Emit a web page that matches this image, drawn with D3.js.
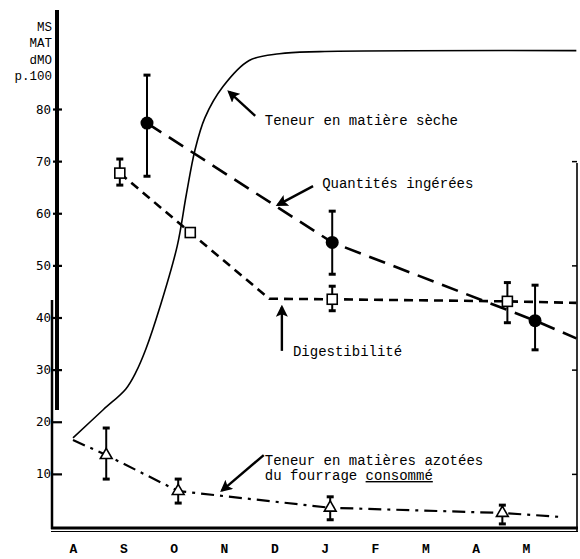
<!DOCTYPE html>
<html>
<head>
<meta charset="utf-8">
<script src="https://cdn.jsdelivr.net/npm/d3@7/dist/d3.min.js"></script>
<style>
  body { margin: 0; background: #fff; }
  svg { display: block; }
</style>
</head>
<body>
<div id="chart"></div>
<script>
'use strict';

// month labels, August -> May
const months = ['A', 'S', 'O', 'N', 'D', 'J', 'F', 'M', 'A', 'M'];
const yTicks = [10, 20, 30, 40, 50, 60, 70, 80];
const rightTicks = [10, 30, 50, 70];
const unitLines = ['MS', 'MAT', 'dMO', 'p.100'];

// Teneur en matiere seche (solid curve)
const msMonth = [0, 0.6, 1.05, 1.25, 1.45, 1.73, 2.07, 2.25, 2.42, 2.62, 2.98, 3.5, 4.1, 4.9, 10];
const msValue = [16.9, 22.3, 26.3, 29.5, 34, 42.1, 53.7, 63.5, 72, 78.3, 84.3, 89.3, 90.6, 91, 91.2];

// Quantites ingerees (filled circles)
const qiMonth = [1.47, 5.15, 9.18];
const qiValue = [77.3, 54.4, 39.4];
const qiLow = [67.1, 48.3, 33.8];
const qiHigh = [86.5, 60.4, 46.2];
const qiLineMonth = [1.47, 5.15, 9.18, 10];
const qiLineValue = [77.3, 54.4, 39.4, 36];

// Digestibilite (open squares)
const dgMonth = [0.93, 2.33, 5.15, 8.63];
const dgValue = [67.7, 56.3, 43.5, 43.1];
const dgLow = [65.4, null, 41.3, 39];
const dgHigh = [70.4, null, 46, 46.7];
const dgLineMonth = [0.93, 2.33, 3.9, 5.15, 8.63, 10];
const dgLineValue = [67.7, 56.3, 43.6, 43.5, 43.1, 42.8];

// Teneur en matieres azotees (open triangles)
const maMonth = [0.66, 2.09, 5.11, 8.53];
const maValue = [13.6, 6.7, 3.5, 2.5];
const maLow = [9, 4.4, 1.2, 0.4];
const maHigh = [18.8, 9, 5.6, 4];
const maLineMonth = [0, 0.66, 2.09, 5.11, 8.53, 9.75];
const maLineValue = [16.5, 13.6, 6.7, 3.5, 2.5, 1.7];

// annotations: text anchor and arrow tail/head, in (month, value)
const notes = [
  {lines: ['Teneur en matière sèche'], at: [3.81, 76.9], tail: [3.62, 78.7], head: [3.1, 83.3]},
  {lines: ['Quantités ingérées'], at: [4.95, 64.8], tail: [4.77, 65.2], head: [4.07, 61.6]},
  {lines: ['Digestibilité'], at: [4.37, 32.6], tail: [4.15, 33.6], head: [4.15, 42]},
  {lines: ['Teneur en matières azotées', 'du fourrage ', 'consommé'], at: [3.81, 11.7], tail: [3.79, 13.6], head: [2.96, 6.8]}
];

const width = 580, height = 559;
const mono = '"Liberation Mono", "DejaVu Sans Mono", monospace';

const svg = d3.select('#chart').append('svg')
    .attr('width', width)
    .attr('height', height);

const x = d3.scaleLinear().domain([0, 9]).range([73, 526]);
const y = d3.scaleLinear().domain([0, 80]).range([526, 109]);

const zip = (a, b) => a.map((v, i) => [v, b[i]]);

svg.append('defs').append('marker')
    .attr('id', 'head')
    .attr('viewBox', '0 0 10 10')
    .attr('refX', 8).attr('refY', 5)
    .attr('markerWidth', 6).attr('markerHeight', 6)
    .attr('markerUnits', 'userSpaceOnUse')
    .attr('orient', 'auto')
  .append('path')
    .attr('d', 'M0,0L10,5L0,10L2,5Z')
    .attr('fill', '#000');
svg.select('marker')
    .attr('markerWidth', 12).attr('markerHeight', 12);

// ---- axes ----
const left = svg.append('g').attr('transform', 'translate(53,0)');
left.call(d3.axisRight(y).tickValues(yTicks).tickSize(9).tickFormat(''));
left.select('.domain').remove();
left.selectAll('.tick line').attr('stroke-width', 2.2);

const leftLabels = svg.append('g').attr('transform', 'translate(52,0)')
    .call(d3.axisLeft(y).tickValues(yTicks).tickSize(0).tickPadding(1));
leftLabels.select('.domain').remove();
leftLabels.selectAll('text')
    .attr('font-family', '"DejaVu Sans Mono", monospace')
    .attr('font-size', 12.5)
    .attr('fill', '#000');

svg.append('line')
    .attr('x1', 57).attr('x2', 57).attr('y1', 10).attr('y2', 410)
    .attr('stroke', '#000').attr('stroke-width', 4);
svg.append('line')
    .attr('x1', 52).attr('x2', 52).attr('y1', 300).attr('y2', 529)
    .attr('stroke', '#000').attr('stroke-width', 2.5);

svg.append('line')
    .attr('x1', 51).attr('x2', 578).attr('y1', 528).attr('y2', 528)
    .attr('stroke', '#000').attr('stroke-width', 3);
svg.append('line')
    .attr('x1', 51).attr('x2', 578).attr('y1', 531.5).attr('y2', 531.5)
    .attr('stroke', '#000').attr('stroke-width', 1);

const right = svg.append('g').attr('transform', 'translate(577,0)');
right.call(d3.axisLeft(y).tickValues(rightTicks).tickSize(5).tickFormat(''));
right.select('.domain').remove();
right.selectAll('.tick line').attr('stroke-width', 1.5);
svg.append('line')
    .attr('x1', 577).attr('x2', 577).attr('y1', 163).attr('y2', 532)
    .attr('stroke', '#000').attr('stroke-width', 1.6);

const bottom = svg.append('g').attr('transform', 'translate(0,528)')
    .call(d3.axisBottom(x).tickValues(d3.range(months.length)).tickSize(0).tickPadding(16)
        .tickFormat(i => months[i]));
bottom.select('.domain').remove();
bottom.selectAll('text')
    .attr('font-family', mono)
    .attr('font-weight', 'bold')
    .attr('font-size', 13)
    .attr('fill', '#000');

svg.append('text')
    .attr('font-family', mono)
    .attr('font-size', 12.5)
    .attr('text-anchor', 'end')
  .selectAll('tspan')
  .data(unitLines)
  .join('tspan')
    .attr('x', 52)
    .attr('y', (d, i) => 31 + i * 16.3)
    .text(d => d);

// ---- series ----
const line = d3.line().x(d => x(d[0])).y(d => y(d[1]));

svg.append('path')
    .datum(zip(msMonth, msValue))
    .attr('d', line.curve(d3.curveCatmullRom.alpha(0.5)))
    .attr('fill', 'none').attr('stroke', '#000').attr('stroke-width', 1.6);

line.curve(d3.curveLinear);

svg.append('path')
    .datum(zip(qiLineMonth, qiLineValue))
    .attr('d', line)
    .attr('fill', 'none').attr('stroke', '#000').attr('stroke-width', 2.6)
    .attr('stroke-dasharray', '17,9');

svg.append('path')
    .datum(zip(dgLineMonth, dgLineValue))
    .attr('d', line)
    .attr('fill', 'none').attr('stroke', '#000').attr('stroke-width', 2.6)
    .attr('stroke-dasharray', '9,6');

svg.append('path')
    .datum(zip(maLineMonth, maLineValue))
    .attr('d', line)
    .attr('fill', 'none').attr('stroke', '#000').attr('stroke-width', 2.2)
    .attr('stroke-dasharray', '13,6,3,6');

function errorBars(ms, lo, hi) {
    const data = ms.map((m, i) => ({m, lo: lo[i], hi: hi[i]})).filter(d => d.lo != null);
    const g = svg.append('g').attr('stroke', '#000');
    g.selectAll('line.bar').data(data).join('line')
        .attr('class', 'bar')
        .attr('x1', d => x(d.m)).attr('x2', d => x(d.m))
        .attr('y1', d => y(d.lo)).attr('y2', d => y(d.hi))
        .attr('stroke-width', 2);
    g.selectAll('line.lo').data(data).join('line')
        .attr('class', 'lo')
        .attr('x1', d => x(d.m) - 3.5).attr('x2', d => x(d.m) + 3.5)
        .attr('y1', d => y(d.lo)).attr('y2', d => y(d.lo))
        .attr('stroke-width', 3);
    g.selectAll('line.hi').data(data).join('line')
        .attr('class', 'hi')
        .attr('x1', d => x(d.m) - 3.5).attr('x2', d => x(d.m) + 3.5)
        .attr('y1', d => y(d.hi)).attr('y2', d => y(d.hi))
        .attr('stroke-width', 3);
}

errorBars(qiMonth, qiLow, qiHigh);
errorBars(dgMonth, dgLow, dgHigh);
errorBars(maMonth, maLow, maHigh);

svg.append('g').selectAll('circle')
    .data(zip(qiMonth, qiValue))
    .join('circle')
    .attr('cx', d => x(d[0])).attr('cy', d => y(d[1]))
    .attr('r', 6.5).attr('fill', '#000');

svg.append('g').selectAll('rect')
    .data(zip(dgMonth, dgValue))
    .join('rect')
    .attr('x', d => x(d[0]) - 5).attr('y', d => y(d[1]) - 5)
    .attr('width', 10).attr('height', 10)
    .attr('fill', '#fff').attr('stroke', '#000').attr('stroke-width', 1.6);

svg.append('g').selectAll('path')
    .data(zip(maMonth, maValue))
    .join('path')
    .attr('d', d3.symbol(d3.symbolTriangle, 60))
    .attr('transform', d => `translate(${x(d[0])},${y(d[1])})`)
    .attr('fill', '#fff').attr('stroke', '#000').attr('stroke-width', 1.6);

// ---- annotations ----
notes.forEach(n => {
    svg.append('line')
        .attr('x1', x(n.tail[0])).attr('y1', y(n.tail[1]))
        .attr('x2', x(n.head[0])).attr('y2', y(n.head[1]))
        .attr('stroke', '#000').attr('stroke-width', 2.4)
        .attr('marker-end', 'url(#head)');

    const t = svg.append('text')
        .attr('font-family', mono)
        .attr('font-size', 14)
        .attr('fill', '#000')
        .attr('x', x(n.at[0]))
        .attr('y', y(n.at[1]));
    t.append('tspan').text(n.lines[0]);
    if (n.lines.length > 1) {
        t.append('tspan')
            .attr('x', x(n.at[0]))
            .attr('dy', 15)
            .text(n.lines[1]);
        t.append('tspan')
            .style('text-decoration', 'underline')
            .text(n.lines[2]);
    }
});
</script>
</body>
</html>
